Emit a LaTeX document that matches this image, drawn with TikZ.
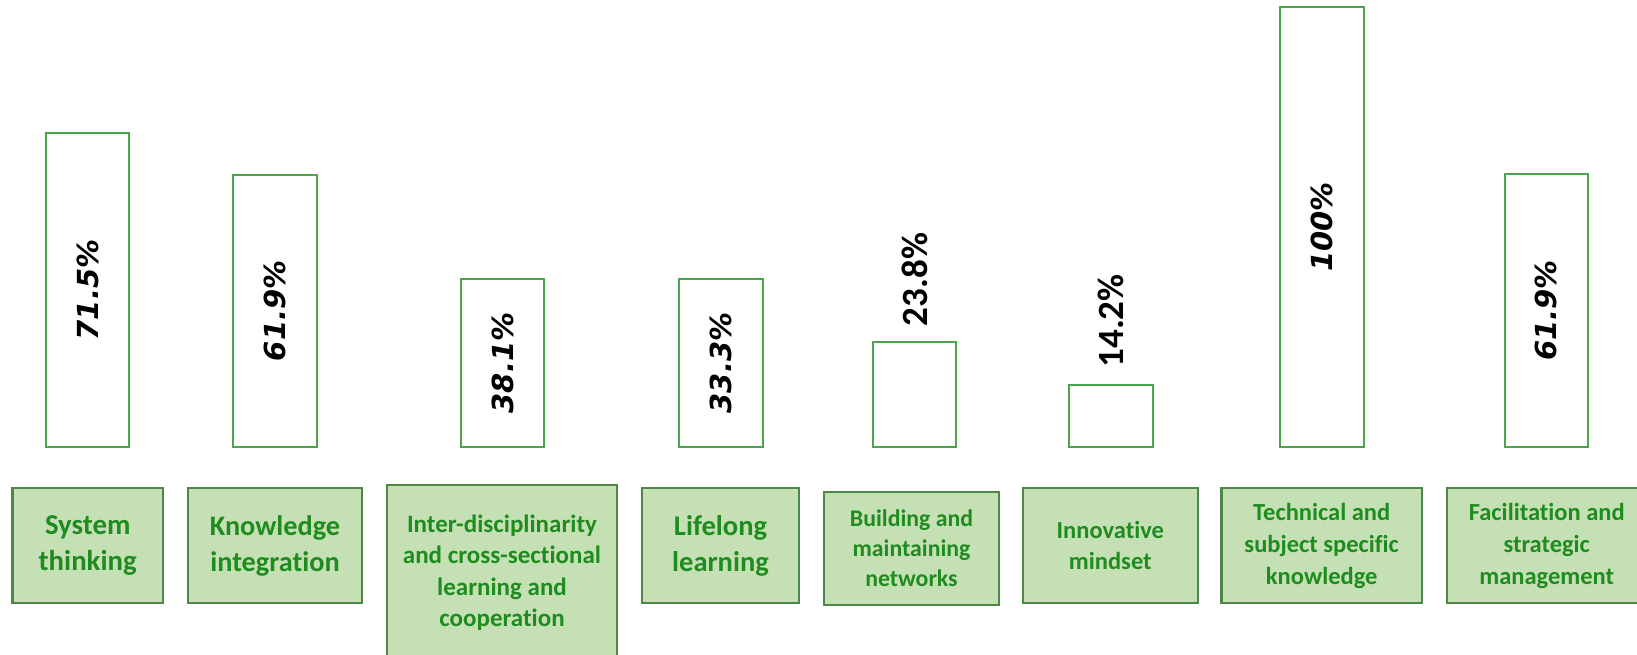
\documentclass[tikz,border=0pt]{standalone}
\usepackage{fontspec}
\setmainfont{Carlito}[Ligatures={NoCommon}]
\newfontfamily\valfont{DejaVu Sans}
\definecolor{barline}{RGB}{76,165,76}
\definecolor{boxfill}{RGB}{198,224,181}
\definecolor{boxline}{RGB}{80,135,72}
\definecolor{boxtext}{RGB}{30,140,30}
\tikzset{
  bar/.style={draw=barline, line width=2pt, fill=white, minimum width=83.5pt, anchor=south, inner sep=0pt},
  valin/.style={rotate=90, font=\valfont\bfseries\itshape\fontsize{29}{35}\selectfont, inner sep=0pt},
  valout/.style={rotate=90, anchor=west, font=\bfseries\fontsize{37}{44}\selectfont, inner sep=0pt},
  skill/.style={draw=boxline, line width=2.2pt, fill=boxfill, text=boxtext, align=center, inner sep=0pt, font=\bfseries},
}
\begin{document}
\begin{tikzpicture}[x=1pt,y=-1pt]
\useasboundingbox (0,0) rectangle (1637,654);
\clip (0,0) rectangle (1637,654);
% bars
\node[bar, minimum height=314pt]   (b1) at (87.5,448) {};
\node[bar, minimum height=272.3pt] (b2) at (275,448) {};
\node[bar, minimum height=168pt]   (b3) at (502.7,448) {};
\node[bar, minimum height=168pt]   (b4) at (721,448) {};
\node[bar, minimum height=104.7pt] (b5) at (914.7,448) {};
\node[bar, minimum height=62.3pt]  (b6) at (1111,448) {};
\node[bar, minimum height=440pt]   (b7) at (1322,448) {};
\node[bar, minimum height=273pt]   (b8) at (1546.3,448) {};
% values
\node[valin] (v1) at (b1.center) {71.5\%};
\node[valin] (v2) at (b2.center) {61.9\%};
\node[valin] (v3) at (b3.center) {38.1\%};
\node[valin] (v4) at (b4.center) {33.3\%};
\node[valout] (v5) at ([yshift=15pt]b5.north) {23.8\%};
\node[valout] (v6) at ([yshift=16pt]b6.north) {14.2\%};
\node[valin] (v7) at (b7.center) {100\%};
\node[valin] (v8) at (b8.center) {61.9\%};
% skill boxes
\node[skill, minimum width=150.5pt, minimum height=115pt, font=\bfseries\fontsize{28.8}{36}\selectfont] (s1) at (87.7,545.5) {System\\thinking};
\node[skill, minimum width=174pt, minimum height=115pt, font=\bfseries\fontsize{28.3}{36}\selectfont] (s2) at (275,545.5) {Knowledge\\integration};
\node[skill, minimum width=230pt, minimum height=175pt, font=\bfseries\fontsize{25}{31.5}\selectfont] (s3) at (502,572.5) {Inter-disciplinarity\\and cross-sectional\\learning and\\cooperation};
\node[skill, minimum width=157pt, minimum height=115pt, font=\bfseries\fontsize{28.5}{36}\selectfont] (s4) at (720.5,545.5) {Lifelong\\learning};
\node[skill, minimum width=175pt, minimum height=113pt, font=\bfseries\fontsize{23.8}{30}\selectfont] (s5) at (911.5,548.5) {Building and\\maintaining\\networks};
\node[skill, minimum width=174.7pt, minimum height=115pt, font=\bfseries\fontsize{24.5}{31}\selectfont] (s6) at (1110.3,545.5) {Innovative\\mindset};
\node[skill, minimum width=200.5pt, minimum height=115pt, font=\bfseries\fontsize{24.5}{32}\selectfont] (s7) at (1321.7,545.5) {\raisebox{0pt}[\height][\depth]{}Technical and\\subject specific\\knowledge};
\node[skill, minimum width=200pt, minimum height=115pt, font=\bfseries\fontsize{24.5}{32}\selectfont] (s8) at (1546.7,545.5) {Facilitation and\\strategic\\management};
\end{tikzpicture}
\end{document}
